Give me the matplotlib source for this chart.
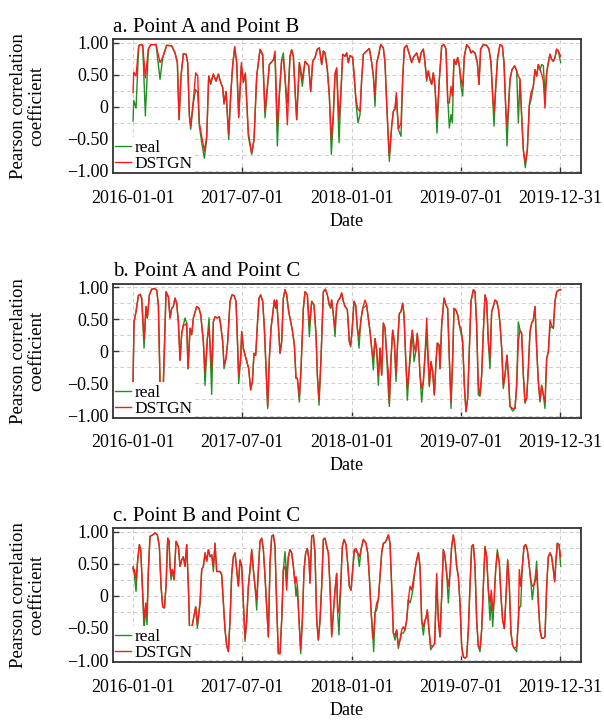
import matplotlib
matplotlib.use('Agg')
import matplotlib.pyplot as plt
from matplotlib.ticker import MultipleLocator

plt.rcParams['font.family'] = ['Liberation Serif', 'DejaVu Serif']

# eixo x: indice da amostra (as datas so aparecem nos ticks)
tick_pos = [0, 328, 656, 984, 1281]
tick_lab = ['2016-01-01', '2017-07-01', '2018-01-01', '2019-07-01', '2019-12-31']

# a. Point A and Point B
tA = [0, 2, 9, 17, 21, 29, 37, 46, 53, 69, 81, 89, 101, 116, 126, 133, 138, 144, 151, 159,
      164, 169, 173, 181, 188, 194, 199, 206, 214, 221, 227, 233, 241, 249, 256, 263, 269, 273, 279, 287,
      293, 299, 305, 311, 317, 325, 331, 337, 346, 356, 363, 371, 381, 389, 396, 409, 421, 426, 433, 439,
      446, 451, 456, 463, 471, 476, 481, 486, 491, 499, 503, 508, 516, 527, 533, 539, 546, 553, 559, 566,
      571, 576, 583, 589, 595, 601, 606, 611, 618, 623, 629, 636, 641, 646, 651, 659, 664, 669, 675, 681,
      686, 691, 701, 709, 716, 721, 726, 731, 736, 743, 751, 756, 761, 766, 769, 776, 781, 786, 790, 796,
      804, 809, 814, 821, 829, 836, 841, 851, 859, 864, 871, 876, 881, 886, 891, 896, 901, 906, 912, 919,
      926, 933, 939, 944, 949, 954, 958, 963, 969, 974, 979, 984, 989, 994, 1001, 1009, 1014, 1019, 1026, 1033,
      1038, 1043, 1051, 1061, 1068, 1074, 1079, 1083, 1089, 1094, 1101, 1108, 1113, 1118, 1122, 1127, 1131, 1137, 1145, 1151,
      1156, 1161, 1166, 1171, 1177, 1183, 1189, 1194, 1201, 1206, 1211, 1216, 1221, 1226, 1231, 1236, 1241, 1246, 1251, 1256,
      1261, 1266, 1271, 1276, 1283]
realA = [-0.22, 0.10, -0.02, 0.95, 0.97, 0.96, -0.14, 0.90, 0.97, 0.97, 0.43, 0.77, 0.96, 0.95, 0.84, 0.69, -0.20, 0.48, 0.83, 0.82,
         0.69, -0.15, -0.35, 0.06, 0.27, 0.22, -0.30, -0.56, -0.80, -0.51, 0.48, 0.35, 0.51, 0.40, 0.51, 0.38, 0.30, 0.04, 0.24, -0.51,
         0.17, 0.64, 0.92, 0.69, -0.15, 0.64, 0.38, 0.51, -0.46, -0.74, -0.51, 0.48, 0.89, 0.80, -0.17, 0.66, 0.73, 0.79, -0.61, 0.17,
         0.74, 0.84, 0.43, 0.06, 0.79, 0.89, 0.79, 0.27, -0.20, 0.69, 0.53, 0.32, 0.71, 0.64, 0.24, 0.71, 0.77, 0.90, 0.92, 0.66,
         0.87, 0.84, 0.58, 0.17, -0.74, -0.15, 0.48, 0.58, -0.56, 0.11, 0.82, 0.79, 0.84, 0.69, 0.80, 0.77, 0.43, 0.06, -0.25, -0.12,
         0.43, 0.82, 0.87, 0.91, 0.69, 0.48, 0.01, 0.69, 0.79, 0.97, 0.92, 0.69, 0.06, -0.51, -0.85, -0.30, -0.07, -0.04, 0.17, -0.35,
         -0.46, 0.43, 0.92, 0.96, 0.82, 0.69, 0.77, 0.84, 0.69, 0.84, 0.90, 0.69, 0.40, 0.56, 0.43, 0.35, 0.53, 0.32, -0.41, 0.43,
         0.95, 0.97, 0.90, 0.17, -0.33, -0.12, -0.25, 0.74, 0.66, 0.77, 0.64, 0.32, 0.17, 0.79, 0.97, 0.92, 0.84, 0.87, 0.84, 0.69,
         0.35, 0.90, 0.97, 0.96, 0.90, 0.69, 0.17, -0.30, 0.38, 0.77, 0.97, 0.95, 0.69, 0.01, -0.61, 0.04, 0.43, 0.58, 0.64, 0.56,
         -0.25, 0.43, -0.15, -0.67, -0.95, -0.67, 0.01, 0.11, 0.32, 0.58, 0.48, 0.66, 0.58, 0.66, 0.64, 0.19, 0.53, 0.69, 0.82, 0.74,
         0.71, 0.77, 0.90, 0.87, 0.69]
dstgnA = [0.22, 0.54, 0.48, 0.95, 0.97, 0.96, 0.45, 0.90, 0.97, 0.97, 0.69, 0.77, 0.96, 0.95, 0.84, 0.69, -0.20, 0.48, 0.83, 0.82,
          0.69, -0.12, -0.30, 0.11, 0.53, 0.48, -0.25, -0.46, -0.69, -0.46, 0.48, 0.38, 0.51, 0.40, 0.51, 0.38, 0.30, 0.06, 0.24, -0.43,
          0.19, 0.66, 0.94, 0.69, -0.17, 0.69, 0.38, 0.53, -0.41, -0.72, -0.51, 0.48, 0.90, 0.82, -0.07, 0.66, 0.73, 0.87, -0.30, 0.22,
          0.74, 0.74, 0.48, -0.28, 0.79, 0.89, 0.79, 0.27, -0.20, 0.69, 0.58, 0.43, 0.71, 0.64, 0.24, 0.71, 0.77, 0.90, 0.92, 0.66,
          0.87, 0.84, 0.58, 0.17, -0.51, -0.09, 0.53, 0.61, -0.20, 0.17, 0.82, 0.79, 0.84, 0.69, 0.80, 0.77, 0.48, 0.11, -0.04, -0.07,
          0.43, 0.82, 0.87, 0.91, 0.69, 0.48, 0.17, 0.69, 0.79, 0.97, 0.92, 0.69, 0.06, -0.51, -0.77, -0.30, -0.07, -0.02, 0.22, -0.35,
          -0.25, 0.43, 0.92, 0.96, 0.82, 0.69, 0.77, 0.84, 0.69, 0.84, 0.90, 0.69, 0.43, 0.56, 0.43, 0.35, 0.53, 0.32, -0.20, 0.43,
          0.95, 0.97, 0.90, 0.06, 0.06, 0.32, 0.17, 0.74, 0.66, 0.77, 0.64, 0.43, 0.32, 0.79, 0.97, 0.92, 0.84, 0.87, 0.84, 0.69,
          0.35, 0.90, 0.97, 0.96, 0.90, 0.69, 0.17, -0.09, 0.38, 0.77, 0.97, 0.95, 0.69, 0.01, -0.30, 0.04, 0.43, 0.58, 0.64, 0.56,
          0.48, 0.43, -0.15, -0.67, -0.88, -0.67, 0.04, 0.22, 0.32, 0.58, 0.48, 0.66, 0.58, 0.51, 0.40, -0.02, 0.53, 0.69, 0.82, 0.74,
          0.71, 0.77, 0.90, 0.87, 0.79]

# b. Point A and Point C
tB = [0, 3, 9, 16, 21, 26, 33, 39, 43, 49, 56, 63, 71, 76, 81, 86, 91, 99, 106, 111,
      116, 121, 126, 131, 136, 141, 146, 151, 156, 161, 165, 171, 176, 181, 191, 198, 203, 211, 216, 223,
      228, 236, 241, 246, 253, 259, 263, 269, 273, 279, 284, 291, 297, 303, 309, 314, 317, 323, 326, 331,
      336, 341, 347, 353, 358, 363, 368, 373, 378, 383, 389, 394, 399, 404, 409, 414, 421, 424, 428, 431,
      436, 441, 446, 451, 456, 461, 467, 473, 478, 484, 489, 493, 499, 504, 511, 516, 523, 529, 536, 543,
      549, 553, 558, 564, 571, 577, 583, 589, 593, 596, 601, 606, 611, 616, 621, 626, 631, 636, 643, 649,
      653, 657, 663, 668, 673, 678, 683, 689, 696, 701, 706, 711, 717, 721, 726, 731, 736, 741, 746, 751,
      756, 761, 766, 769, 774, 779, 784, 789, 794, 799, 804, 809, 813, 818, 823, 828, 833, 838, 843, 848,
      853, 858, 861, 866, 871, 876, 881, 889, 894, 899, 904, 909, 913, 918, 921, 926, 933, 939, 944, 949,
      954, 959, 963, 968, 974, 979, 984, 989, 994, 999, 1004, 1009, 1014, 1021, 1026, 1031, 1036, 1041, 1046, 1051,
      1056, 1061, 1066, 1071, 1076, 1081, 1086, 1091, 1096, 1101, 1106, 1111, 1116, 1122, 1126, 1131, 1139, 1146, 1151, 1156,
      1161, 1166, 1171, 1176, 1181, 1186, 1191, 1196, 1201, 1206, 1211, 1216, 1221, 1226, 1231, 1236, 1241, 1246, 1251, 1256,
      1261, 1266, 1271, 1279, 1283]
realB = [-0.47, 0.46, 0.62, 0.87, 0.89, 0.83, 0.05, 0.70, 0.52, 0.88, 0.97, 0.98, 0.96, 0.72, -0.50, -0.65, -0.50, 0.93, 0.85, 0.52,
         0.67, 0.70, 0.83, 0.75, 0.46, -0.14, 0.28, 0.41, 0.52, 0.44, -0.27, 0.36, 0.26, 0.52, 0.70, 0.67, 0.57, 0.15, -0.53, 0.20,
         0.52, -0.67, 0.46, 0.54, 0.52, 0.54, 0.41, 0.15, -0.27, -0.11, 0.15, 0.78, 0.88, 0.87, 0.78, 0.05, -0.50, -0.11, 0.31, 0.05,
         -0.06, -0.16, -0.27, -0.60, -0.47, -0.03, -0.06, 0.41, 0.83, 0.88, 0.78, 0.36, -0.27, -0.89, -0.11, 0.36, 0.67, 0.80, 0.67, 0.80,
         0.41, -0.03, 0.15, 0.83, 0.96, 0.88, 0.62, 0.46, 0.33, 0.10, -0.42, -0.42, -0.79, -0.27, 0.67, 0.93, 0.88, 0.23, 0.78, 0.72,
         0.26, -0.37, -0.84, -0.11, 0.93, 0.97, 0.88, 0.72, 0.67, 0.80, 0.57, 0.23, 0.72, 0.80, 0.83, 0.91, 0.78, 0.70, 0.65, 0.15,
         0.07, 0.31, 0.78, 0.72, 0.36, 0.05, 0.46, 0.67, 0.70, 0.72, 0.52, 0.31, -0.01, -0.29, 0.20, 0.02, -0.53, 0.05, -0.37, 0.44,
         0.36, -0.06, -0.63, -0.86, -0.11, 0.33, 0.15, -0.47, 0.15, 0.59, 0.62, 0.75, 0.57, -0.11, -0.76, -0.32, -0.06, 0.33, -0.16, -0.01,
         0.28, -0.06, -0.37, -0.79, -0.47, -0.06, 0.26, -0.55, -0.16, -0.32, -0.68, -0.16, 0.13, 0.10, -0.27, 0.41, 0.83, 0.72, 0.67, -0.11,
         -0.89, -0.11, 0.67, 0.65, 0.57, 0.41, 0.28, 0.15, -0.53, -0.94, -0.73, 0.05, 0.78, 0.96, 0.93, 0.41, -0.68, -0.70, -0.37, 0.31,
         0.88, 0.78, 0.15, -0.27, 0.62, 0.70, 0.80, 0.78, 0.67, 0.44, 0.05, -0.58, -0.37, -0.06, -0.37, -0.86, -0.93, -0.89, -0.53, 0.46,
         0.33, 0.28, -0.37, -0.81, -0.73, -0.27, 0.31, 0.44, 0.49, 0.70, 0.05, -0.47, -0.79, -0.53, -0.68, -0.89, -0.11, -0.01, 0.36, 0.39,
         0.36, 0.78, 0.93, 0.96, 0.96]
dstgnB = [-0.47, 0.46, 0.62, 0.87, 0.89, 0.83, 0.18, 0.70, 0.52, 0.88, 0.97, 0.98, 0.96, 0.72, -0.50, -0.60, -0.50, 0.93, 0.85, 0.52,
          0.67, 0.70, 0.83, 0.75, 0.46, -0.14, 0.28, 0.41, 0.41, 0.44, -0.27, 0.36, 0.26, 0.52, 0.70, 0.67, 0.57, 0.15, -0.32, 0.20,
          0.36, -0.27, 0.46, 0.54, 0.52, 0.54, 0.41, 0.15, -0.21, -0.11, 0.15, 0.78, 0.88, 0.87, 0.78, 0.05, -0.37, -0.11, 0.31, 0.05,
          -0.06, -0.14, -0.27, -0.60, -0.47, -0.03, -0.06, 0.41, 0.83, 0.88, 0.78, 0.36, -0.27, -0.86, -0.11, 0.36, 0.67, 0.80, 0.67, 0.80,
          0.41, -0.03, 0.15, 0.83, 0.96, 0.88, 0.62, 0.46, 0.33, 0.10, -0.42, -0.42, -0.71, -0.27, 0.67, 0.93, 0.88, 0.41, 0.78, 0.72,
          0.26, -0.37, -0.76, -0.11, 0.93, 0.97, 0.88, 0.72, 0.72, 0.80, 0.57, 0.36, 0.72, 0.80, 0.83, 0.91, 0.78, 0.70, 0.65, 0.15,
          0.10, 0.31, 0.78, 0.72, 0.36, 0.23, 0.46, 0.67, 0.80, 0.72, 0.52, 0.31, -0.01, -0.11, 0.20, 0.02, -0.37, 0.05, -0.37, 0.44,
          0.36, -0.06, -0.32, -0.81, -0.11, 0.33, 0.15, -0.37, 0.15, 0.59, 0.62, 0.75, 0.57, -0.11, -0.58, -0.32, 0.15, 0.33, 0.10, -0.01,
          0.28, -0.06, -0.37, -0.58, -0.47, -0.06, 0.52, -0.53, -0.16, -0.32, -0.68, -0.16, 0.13, 0.10, -0.27, 0.41, 0.83, 0.72, 0.67, -0.11,
          -0.79, -0.11, 0.67, 0.65, 0.57, 0.41, 0.36, 0.15, -0.53, -0.94, -0.73, 0.05, 0.78, 0.96, 0.93, 0.41, -0.53, -0.68, -0.37, 0.31,
          0.88, 0.78, 0.15, -0.11, 0.62, 0.70, 0.80, 0.78, 0.67, 0.44, 0.05, -0.53, -0.37, -0.06, -0.37, -0.86, -0.89, -0.89, -0.53, 0.15,
          0.33, 0.28, -0.37, -0.79, -0.73, -0.27, 0.31, 0.44, 0.49, 0.70, 0.05, -0.47, -0.76, -0.53, -0.68, -0.79, -0.11, -0.01, 0.49, 0.39,
          0.36, 0.78, 0.93, 0.96, 0.96]

# c. Point B and Point C
tC = [0, 1, 4, 9, 14, 19, 23, 28, 33, 38, 42, 46, 51, 59, 66, 73, 79, 84, 89, 94,
      99, 104, 108, 111, 114, 118, 123, 129, 136, 141, 146, 151, 156, 161, 166, 170, 178, 188, 193, 201,
      206, 211, 216, 221, 226, 231, 236, 241, 246, 251, 256, 261, 266, 271, 276, 281, 286, 291, 296, 301,
      306, 311, 316, 321, 326, 331, 336, 341, 346, 351, 356, 361, 366, 371, 376, 381, 386, 391, 396, 401,
      406, 411, 416, 421, 426, 431, 436, 441, 446, 451, 456, 461, 466, 471, 476, 481, 486, 489, 493, 498,
      503, 508, 513, 518, 523, 528, 531, 536, 541, 546, 551, 556, 561, 566, 571, 576, 581, 586, 591, 596,
      601, 606, 611, 614, 618, 623, 628, 633, 639, 644, 649, 654, 659, 664, 669, 674, 679, 684, 691, 699,
      704, 709, 714, 719, 722, 726, 731, 736, 741, 746, 751, 756, 761, 766, 771, 776, 781, 786, 791, 796,
      801, 806, 811, 816, 821, 826, 831, 836, 841, 846, 851, 856, 861, 866, 871, 876, 879, 883, 887, 893,
      899, 905, 911, 916, 921, 926, 931, 936, 941, 946, 951, 956, 961, 966, 971, 976, 981, 986, 991, 996,
      1001, 1006, 1011, 1016, 1021, 1026, 1031, 1036, 1041, 1046, 1051, 1056, 1061, 1066, 1071, 1075, 1079, 1083, 1088, 1093,
      1099, 1104, 1109, 1114, 1119, 1124, 1129, 1134, 1139, 1144, 1151, 1156, 1159, 1163, 1168, 1173, 1178, 1183, 1188, 1193,
      1198, 1203, 1208, 1211, 1216, 1221, 1226, 1231, 1236, 1241, 1246, 1251, 1256, 1261, 1265, 1269, 1273, 1278, 1283]
realC = [0.43, 0.46, 0.33, 0.07, 0.56, 0.80, 0.72, 0.15, -0.55, -0.17, -0.45, 0.41, 0.93, 0.95, 0.98, 0.95, 0.77, 0.15, -0.17, -0.19,
         0.15, 0.90, 0.85, 0.46, 0.25, 0.41, 0.25, 0.85, 0.77, 0.46, 0.56, 0.61, 0.46, 0.80, 0.15, -0.60, -0.45, -0.17, -0.50, -0.11,
         0.41, 0.46, 0.67, 0.54, 0.72, 0.61, 0.64, 0.38, 0.82, 0.38, 0.38, 0.38, 0.33, -0.11, -0.53, -0.77, -0.87, -0.38, 0.33, 0.61,
         0.67, 0.41, 0.15, 0.56, 0.46, -0.11, -0.71, -0.38, 0.15, 0.41, 0.72, 0.41, 0.15, -0.22, 0.41, 0.85, 0.90, 0.72, 0.30, -0.17,
         -0.64, 0.51, 0.93, 0.95, 0.77, -0.17, -0.90, -0.90, -0.38, 0.41, 0.69, 0.30, 0.61, 0.72, 0.67, 0.46, 0.20, -0.01, 0.15, -0.38,
         -0.90, -0.38, 0.41, 0.67, 0.74, 0.56, 0.20, 0.93, 0.95, 0.67, -0.38, -0.69, -0.38, 0.15, 0.88, 0.90, 0.77, 0.67, 0.15, -0.61,
         -0.27, 0.09, 0.35, -0.27, -0.61, 0.15, 0.77, 0.88, 0.80, 0.51, 0.15, 0.09, 0.41, 0.72, 0.69, 0.67, 0.46, 0.72, 0.88, 0.82,
         0.67, 0.30, -0.22, -0.58, -0.87, -0.27, -0.22, -0.06, 0.30, 0.67, 0.82, 0.83, 0.88, 0.95, 0.82, 0.15, -0.58, -0.69, -0.53, -0.82,
         -0.69, -0.58, -0.58, -0.53, -0.38, -0.06, -0.11, -0.01, 0.15, 0.41, 0.56, 0.67, 0.46, -0.38, -0.61, -0.38, -0.35, -0.22, -0.48, -0.84,
         -0.79, -0.74, 0.25, -0.38, -0.64, -0.01, 0.72, 0.61, 0.35, -0.11, 0.35, 0.77, 0.95, 0.77, 0.46, 0.30, -0.11, -0.79, -0.95, -0.97,
         -0.95, -0.53, 0.15, 0.77, 0.80, 0.46, -0.38, -0.79, -0.87, -0.53, 0.15, 0.77, 0.61, 0.09, -0.38, -0.01, -0.48, -0.11, 0.41, 0.72,
         0.51, -0.01, -0.38, -0.51, -0.01, 0.56, 0.15, -0.58, -0.77, -0.82, -0.87, -0.38, -0.17, -0.17, 0.46, 0.77, 0.80, 0.72, 0.51, 0.25,
         -0.06, 0.17, 0.35, 0.54, -0.11, -0.53, -0.66, -0.66, -0.64, 0.15, 0.61, 0.67, 0.61, 0.41, 0.22, 0.56, 0.82, 0.80, 0.46]
dstgnC = [0.43, 0.38, 0.41, 0.25, 0.56, 0.80, 0.72, 0.15, -0.38, -0.11, -0.30, 0.41, 0.93, 0.95, 0.98, 0.95, 0.77, 0.15, -0.17, -0.19,
          0.15, 0.90, 0.85, 0.46, 0.33, 0.41, 0.25, 0.85, 0.77, 0.46, 0.56, 0.61, 0.46, 0.80, 0.15, -0.60, -0.45, -0.17, -0.45, -0.11,
          0.41, 0.46, 0.67, 0.54, 0.72, 0.61, 0.64, 0.46, 0.82, 0.38, 0.38, 0.38, 0.33, -0.11, -0.53, -0.77, -0.87, -0.38, 0.33, 0.61,
          0.67, 0.41, 0.15, 0.56, 0.46, -0.11, -0.66, -0.38, 0.15, 0.41, 0.72, 0.41, 0.15, -0.06, 0.41, 0.85, 0.90, 0.72, 0.30, -0.17,
          -0.64, 0.51, 0.93, 0.95, 0.77, -0.17, -0.90, -0.90, -0.38, 0.41, 0.46, 0.09, 0.61, 0.72, 0.67, 0.46, 0.20, 0.30, 0.15, -0.38,
          -0.84, -0.38, 0.41, 0.67, 0.74, 0.56, 0.20, 0.93, 0.95, 0.67, -0.38, -0.69, -0.38, 0.15, 0.88, 0.90, 0.77, 0.67, 0.15, -0.64,
          -0.27, 0.09, 0.35, -0.27, -0.22, 0.15, 0.77, 0.88, 0.80, 0.51, 0.15, 0.09, 0.41, 0.72, 0.74, 0.67, 0.61, 0.72, 0.88, 0.82,
          0.67, 0.30, -0.22, -0.66, -0.58, -0.27, -0.11, -0.06, 0.30, 0.67, 0.82, 0.83, 0.88, 0.95, 0.82, 0.15, -0.58, -0.61, -0.53, -0.77,
          -0.69, -0.53, -0.48, -0.53, -0.38, -0.06, 0.15, 0.09, 0.25, 0.41, 0.56, 0.67, 0.46, -0.38, -0.48, -0.38, -0.35, -0.22, -0.48, -0.77,
          -0.79, -0.74, 0.35, -0.38, -0.64, -0.01, 0.72, 0.61, 0.35, 0.15, 0.35, 0.77, 0.95, 0.77, 0.46, 0.30, -0.11, -0.79, -0.95, -0.97,
          -0.95, -0.53, 0.15, 0.77, 0.80, 0.46, -0.38, -0.79, -0.82, -0.53, 0.15, 0.77, 0.61, 0.09, -0.11, 0.09, -0.22, -0.11, 0.41, 0.67,
          0.51, -0.01, -0.38, -0.51, -0.01, 0.56, 0.15, -0.58, -0.77, -0.82, -0.79, -0.38, 0.41, 0.15, 0.46, 0.77, 0.80, 0.72, 0.51, 0.25,
          0.15, 0.17, 0.25, 0.41, -0.11, -0.53, -0.66, -0.66, -0.64, 0.15, 0.61, 0.67, 0.61, 0.41, 0.22, 0.56, 0.82, 0.80, 0.61]

paineis = [
    ('a. Point A and Point B', tA, realA, dstgnA),
    ('b. Point A and Point C', tB, realB, dstgnB),
    ('c. Point B and Point C', tC, realC, dstgnC),
]


def painel(ax, titulo, t, real, dstgn):
    ax.plot(t, real, color='#1f8f1f', lw=1.0, label='real')
    ax.plot(t, dstgn, color='#ff1a1a', lw=1.0, label='DSTGN')

    ax.set_xlim(-61, 1344)
    ax.set_ylim(-1.036, 1.053)
    ax.set_xticks(tick_pos)
    ax.set_xticklabels(tick_lab)
    ax.set_yticks([-1, -0.5, 0, 0.5, 1])
    ax.set_yticklabels(['\u22121.00', '\u22120.50', '0', '0.50', '1.00'])
    ax.yaxis.set_minor_locator(MultipleLocator(0.25))

    ax.tick_params(which='major', direction='in', length=4, width=1, color='#333333', labelsize=13)
    ax.tick_params(which='minor', length=0)
    ax.tick_params(axis='x', pad=12)
    ax.tick_params(axis='y', pad=3)

    # grade tracejada
    ax.set_axisbelow(True)
    ax.grid(True, which='both', ls=(0, (4, 3)), color='#cfcfcf', lw=0.7)

    for s in ax.spines.values():
        s.set_color('#333333')
        s.set_linewidth(1.3)
        s.set_zorder(6)

    ax.set_title(titulo, loc='left', fontsize=15, pad=5.5)
    ax.set_xlabel('Date', fontsize=13, labelpad=4)
    ax.set_ylabel('Pearson correlation\ncoefficient', fontsize=13.5, linespacing=1.05)
    ax.yaxis.set_label_coords(-0.145, 0.5)

    ax.legend(loc='lower left', bbox_to_anchor=(0.0, -0.012), borderaxespad=0, borderpad=0.15,
              handlelength=0.9, handletextpad=0.2, labelspacing=0.0, fontsize=12.5,
              frameon=True, fancybox=False, framealpha=1, edgecolor='none', facecolor='white')


fig = plt.figure(figsize=(6.04, 7.2), dpi=100)
fundos = [0.7593, 0.4197, 0.0801]
for (titulo, t, real, dstgn), b in zip(paineis, fundos):
    ax = fig.add_axes([0.1866, b, 0.7753, 0.1861])
    painel(ax, titulo, t, real, dstgn)

fig.savefig('out.png', dpi=100)
